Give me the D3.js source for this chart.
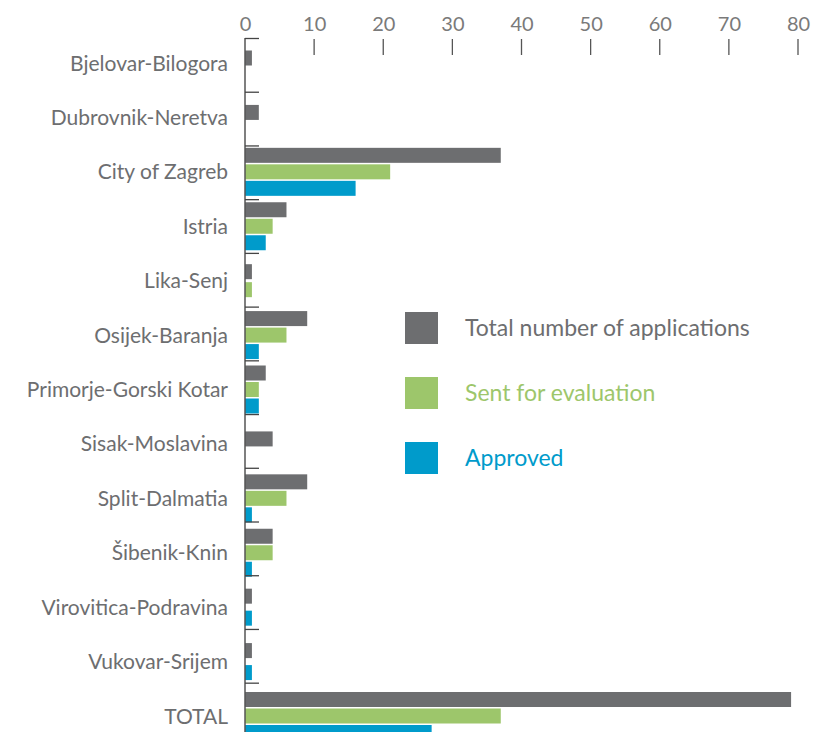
<!DOCTYPE html>
<html>
<head>
<meta charset="utf-8">
<script src="https://cdn.jsdelivr.net/npm/d3@7"></script>
<style>
  html, body { margin: 0; padding: 0; background: #fff; }
  svg { display: block; font-family: Lato, "Open Sans", sans-serif; }
</style>
</head>
<body>
<svg id="chart" width="815" height="732"></svg>
<script>
const categories = [
  "Bjelovar-Bilogora", "Dubrovnik-Neretva", "City of Zagreb", "Istria", "Lika-Senj",
  "Osijek-Baranja", "Primorje-Gorski Kotar", "Sisak-Moslavina", "Split-Dalmatia",
  "Šibenik-Knin", "Virovitica-Podravina", "Vukovar-Srijem", "TOTAL"
];
const seriesNames = ["Total number of applications", "Sent for evaluation", "Approved"];
const totalApplications = [1, 2, 37, 6, 1, 9, 3, 4, 9, 4, 1, 1, 79];
const sentForEvaluation = [0, 0, 21, 4, 1, 6, 2, 0, 6, 4, 0, 0, 37];
const approved =          [0, 0, 16, 3, 0, 2, 2, 0, 1, 1, 1, 1, 27];
const tickValues = [0, 10, 20, 30, 40, 50, 60, 70, 80];
const colors = ["#6d6e70", "#9dc66b", "#009bcb"];

const series = [totalApplications, sentForEvaluation, approved];

const svg = d3.select("#chart");

const x = d3.scaleLinear().domain([0, 80]).range([245, 798]);
// grid of row separators
const y = d3.scaleBand().domain(categories).range([38, 736.4]);
// centres of the labels / bar groups
const yc = d3.scalePoint().domain(categories).range([63, 716]);
const barH = 15;

// top axis
const xAxis = d3.axisTop(x).tickValues(tickValues).tickSize(0).tickPadding(0);
const gx = svg.append("g").attr("transform", "translate(0,31)").call(xAxis);
gx.select(".domain").remove();
gx.selectAll("text")
  .attr("font-family", "Lato, 'Open Sans', sans-serif")
  .attr("font-size", 20)
  .attr("fill", "#7a7a7a")
  .attr("dy", 0);

// vertical tick marks (not at zero)
svg.append("g").selectAll("line")
  .data(tickValues.filter(d => d > 0))
  .join("line")
  .attr("x1", d => x(d)).attr("x2", d => x(d))
  .attr("y1", 39).attr("y2", 55)
  .attr("stroke", "#555").attr("stroke-width", 1.3);

// bars
categories.forEach((cat, i) => {
  const idx = [0, 1, 2].filter(j => series[j][i] > 0);
  const c = yc(cat);
  let centres;
  if (idx.length === 3) {
    centres = [c - 16.5, c, c + 16.5];
  } else if (idx.length === 2) {
    const gap = (idx[1] - idx[0]) === 1 ? 18 : 22;
    centres = [c - gap / 2, c + gap / 2];
  } else {
    centres = [c - 5];
  }
  idx.forEach((j, k) => {
    svg.append("rect")
      .attr("x", x(0))
      .attr("y", centres[k] - barH / 2)
      .attr("width", x(series[j][i]) - x(0))
      .attr("height", barH)
      .attr("fill", colors[j]);
  });
});

// y axis line
svg.append("line")
  .attr("x1", x(0)).attr("x2", x(0))
  .attr("y1", 38).attr("y2", 736)
  .attr("stroke", "#555").attr("stroke-width", 1.5);

// row separators
svg.append("g").selectAll("line")
  .data(categories)
  .join("line")
  .attr("x1", x(0)).attr("x2", x(0) + 14)
  .attr("y1", d => y(d) + 0.5).attr("y2", d => y(d) + 0.5)
  .attr("stroke", "#444").attr("stroke-width", 1.3);

// category labels
svg.append("g").selectAll("text")
  .data(categories)
  .join("text")
  .attr("x", 228)
  .attr("y", d => yc(d) + 7.5)
  .attr("text-anchor", "end")
  .attr("font-size", 21)
  .attr("fill", "#6d6e70")
  .text(d => d);

// legend
const legend = svg.append("g").attr("transform", "translate(405,312)");
seriesNames.forEach((name, j) => {
  const g = legend.append("g").attr("transform", `translate(0,${j * 65})`);
  g.append("rect").attr("width", 33).attr("height", 32).attr("fill", colors[j]);
  g.append("text")
    .attr("x", 60).attr("y", 24)
    .attr("font-size", 23)
    .attr("fill", colors[j])
    .text(name);
});
</script>
</body>
</html>
